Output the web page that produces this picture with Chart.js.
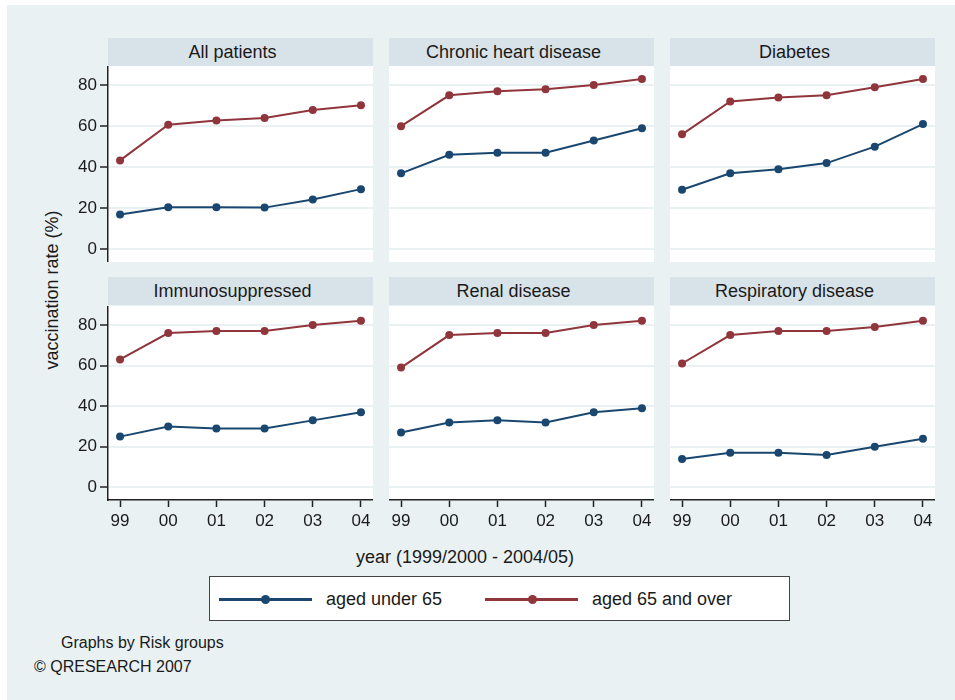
<!DOCTYPE html>
<html>
<head>
<meta charset="utf-8">
<script src="https://cdn.jsdelivr.net/npm/chart.js@4.4.1/dist/chart.umd.min.js"></script>
<style>
    body { margin: 0; background: #fff; font-family: "Liberation Sans", Arial, sans-serif; color: #1a1a1a; }
    #page { position: relative; width: 955px; height: 700px; overflow: hidden; }
    #graph { position: absolute; left: 7px; top: 5px; width: 948px; height: 695px; background: #e9f1f3; }
    canvas { position: absolute; }
    .strip { position: absolute; width: 265px; height: 28px; background: #d8e3e9; font-size: 18px; line-height: 28px; text-align: center; }
    .strip span { position: relative; left: -8px; }
    .txt { position: absolute; white-space: nowrap; }
    #legend { position: absolute; left: 209px; top: 576px; width: 579px; height: 43px; background: #fff; border: 1px solid #444; }
    .key-line { position: absolute; top: 21px; width: 93px; height: 3px; }
    .key-dot { position: absolute; top: 18px; width: 9px; height: 9px; border-radius: 50%; }
    .key-text { position: absolute; top: 11px; font-size: 18px; line-height: 22px; }
</style>
</head>
<body>
<div id="page">
    <div id="graph"></div>
    <div class="txt" style="left:52px; top:290px; font-size:18px; transform: translate(-50%, -50%) rotate(-90deg);">vaccination rate (%)</div>
    <div class="txt" style="left:465px; top:557px; font-size:18px; transform: translate(-50%, -50%);">year (1999/2000 - 2004/05)</div>
    <div id="legend">
        <div class="key-line" style="left:9px; background:#1a476f;"></div>
        <div class="key-dot" style="left:51px; background:#1a476f;"></div>
        <div class="key-text" style="left:116px;">aged under 65</div>
        <div class="key-line" style="left:275px; background:#90353b;"></div>
        <div class="key-dot" style="left:318px; background:#90353b;"></div>
        <div class="key-text" style="left:382px;">aged 65 and over</div>
    </div>
    <div class="txt" style="left:61px; top:634px; font-size:16px;">Graphs by Risk groups</div>
    <div class="txt" style="left:34px; top:658px; font-size:16px;">© QRESEARCH 2007</div>
</div>

<script>
// years on the x axis (1999/2000 ... 2004/05)
const years = ['99', '00', '01', '02', '03', '04'];
const yTicks = [0, 20, 40, 60, 80];

const allPatientsUnder65 = [16.9, 20.5, 20.5, 20.3, 24.3, 29.3];
const allPatientsOver65 = [43.3, 60.7, 62.8, 64.0, 67.9, 70.2];
const heartUnder65 = [37, 46, 47, 47, 53, 59];
const heartOver65 = [60, 75, 77, 78, 80, 83];
const diabetesUnder65 = [29, 37, 39, 42, 50, 61];
const diabetesOver65 = [56, 72, 74, 75, 79, 83];
const immunoUnder65 = [25, 30, 29, 29, 33, 37];
const immunoOver65 = [63, 76, 77, 77, 80, 82];
const renalUnder65 = [27, 32, 33, 32, 37, 39];
const renalOver65 = [59, 75, 76, 76, 80, 82];
const respiratoryUnder65 = [14, 17, 17, 16, 20, 24];
const respiratoryOver65 = [61, 75, 77, 77, 79, 82];

const panels = [
    { title: 'All patients', under: allPatientsUnder65, over: allPatientsOver65 },
    { title: 'Chronic heart disease', under: heartUnder65, over: heartOver65 },
    { title: 'Diabetes', under: diabetesUnder65, over: diabetesOver65 },
    { title: 'Immunosuppressed', under: immunoUnder65, over: immunoOver65 },
    { title: 'Renal disease', under: renalUnder65, over: renalOver65 },
    { title: 'Respiratory disease', under: respiratoryUnder65, over: respiratoryOver65 },
];

const navy = '#1a476f';
const maroon = '#90353b';
const gridColor = '#e9f1f3';
const axisColor = '#222';

// plot region layout (pixels)
const colLeft = [108, 389, 670];
const plotWidth = 265;
const stripTop = [38, 277];
const plotTop = [66, 306];
const plotHeight = [196, 194];
const yAxisWidth = 48;
const xAxisHeight = 40;

Chart.defaults.font.family = '"Liberation Sans", Arial, sans-serif';
Chart.defaults.color = '#1a1a1a';

// white plot region behind the lines
const whitePlot = {
    id: 'whitePlot',
    beforeDraw(chart) {
        const a = chart.chartArea;
        chart.ctx.save();
        chart.ctx.fillStyle = '#fff';
        chart.ctx.fillRect(a.left, a.top, a.right - a.left, a.bottom - a.top);
        chart.ctx.restore();
    }
};

function series(values, label, color) {
    return {
        label: label,
        data: values.map((v, i) => ({ x: i, y: v })),
        borderColor: color,
        backgroundColor: color,
        borderWidth: 2,
        pointRadius: 4,
        pointHoverRadius: 4,
        pointBorderWidth: 0,
        tension: 0,
    };
}

function drawPanel(panel, index) {
    const row = Math.floor(index / 3);
    const col = index % 3;
    const showY = col === 0;
    const showX = row === 1;

    const strip = document.createElement('div');
    strip.className = 'strip';
    strip.style.left = colLeft[col] + 'px';
    strip.style.top = stripTop[row] + 'px';
    strip.innerHTML = '<span>' + panel.title + '</span>';
    document.getElementById('page').appendChild(strip);

    const canvas = document.createElement('canvas');
    canvas.width = plotWidth + (showY ? yAxisWidth : 0);
    canvas.height = plotHeight[row] + (showX ? xAxisHeight : 0);
    canvas.style.left = (colLeft[col] - (showY ? yAxisWidth : 0)) + 'px';
    canvas.style.top = plotTop[row] + 'px';
    document.getElementById('page').appendChild(canvas);

    new Chart(canvas, {
        type: 'line',
        data: {
            datasets: [
                series(panel.under, 'aged under 65', navy),
                series(panel.over, 'aged 65 and over', maroon),
            ]
        },
        options: {
            responsive: false,
            animation: false,
            layout: { padding: 0, autoPadding: false },
            plugins: {
                legend: { display: false },
                tooltip: { enabled: false },
            },
            scales: {
                x: {
                    type: 'linear',
                    min: -0.25,
                    max: 5.25,
                    display: showX,
                    afterBuildTicks: (scale) => { scale.ticks = years.map((_, i) => ({ value: i })); },
                    afterFit: (scale) => {
                        scale.height = showX ? xAxisHeight : 0;
                        scale.paddingLeft = 0;
                        scale.paddingRight = 0;
                    },
                    ticks: {
                        callback: (value) => years[value],
                        font: { size: 17 },
                        color: '#1a1a1a',
                        padding: 4,
                        maxRotation: 0,
                        autoSkip: false,
                    },
                    grid: {
                        drawOnChartArea: false,
                        tickLength: 7,
                        tickColor: axisColor,
                        tickWidth: 1.5,
                    },
                    border: { display: true, color: axisColor, width: 1.5 },
                },
                y: {
                    min: -6.2,
                    max: 89.3,
                    afterBuildTicks: (scale) => { scale.ticks = yTicks.map(v => ({ value: v })); },
                    afterFit: (scale) => {
                        scale.width = showY ? yAxisWidth : 0;
                        scale.paddingTop = 0;
                        scale.paddingBottom = 0;
                    },
                    ticks: {
                        display: showY,
                        font: { size: 17 },
                        color: '#1a1a1a',
                        padding: 3,
                    },
                    grid: {
                        color: gridColor,
                        lineWidth: 2,
                        drawTicks: showY,
                        tickLength: 8,
                        tickColor: axisColor,
                        tickWidth: 1.5,
                    },
                    border: { display: showY, color: axisColor, width: 1.5 },
                },
            },
        },
        plugins: [whitePlot],
    });
}

panels.forEach(drawPanel);
</script>
</body>
</html>
